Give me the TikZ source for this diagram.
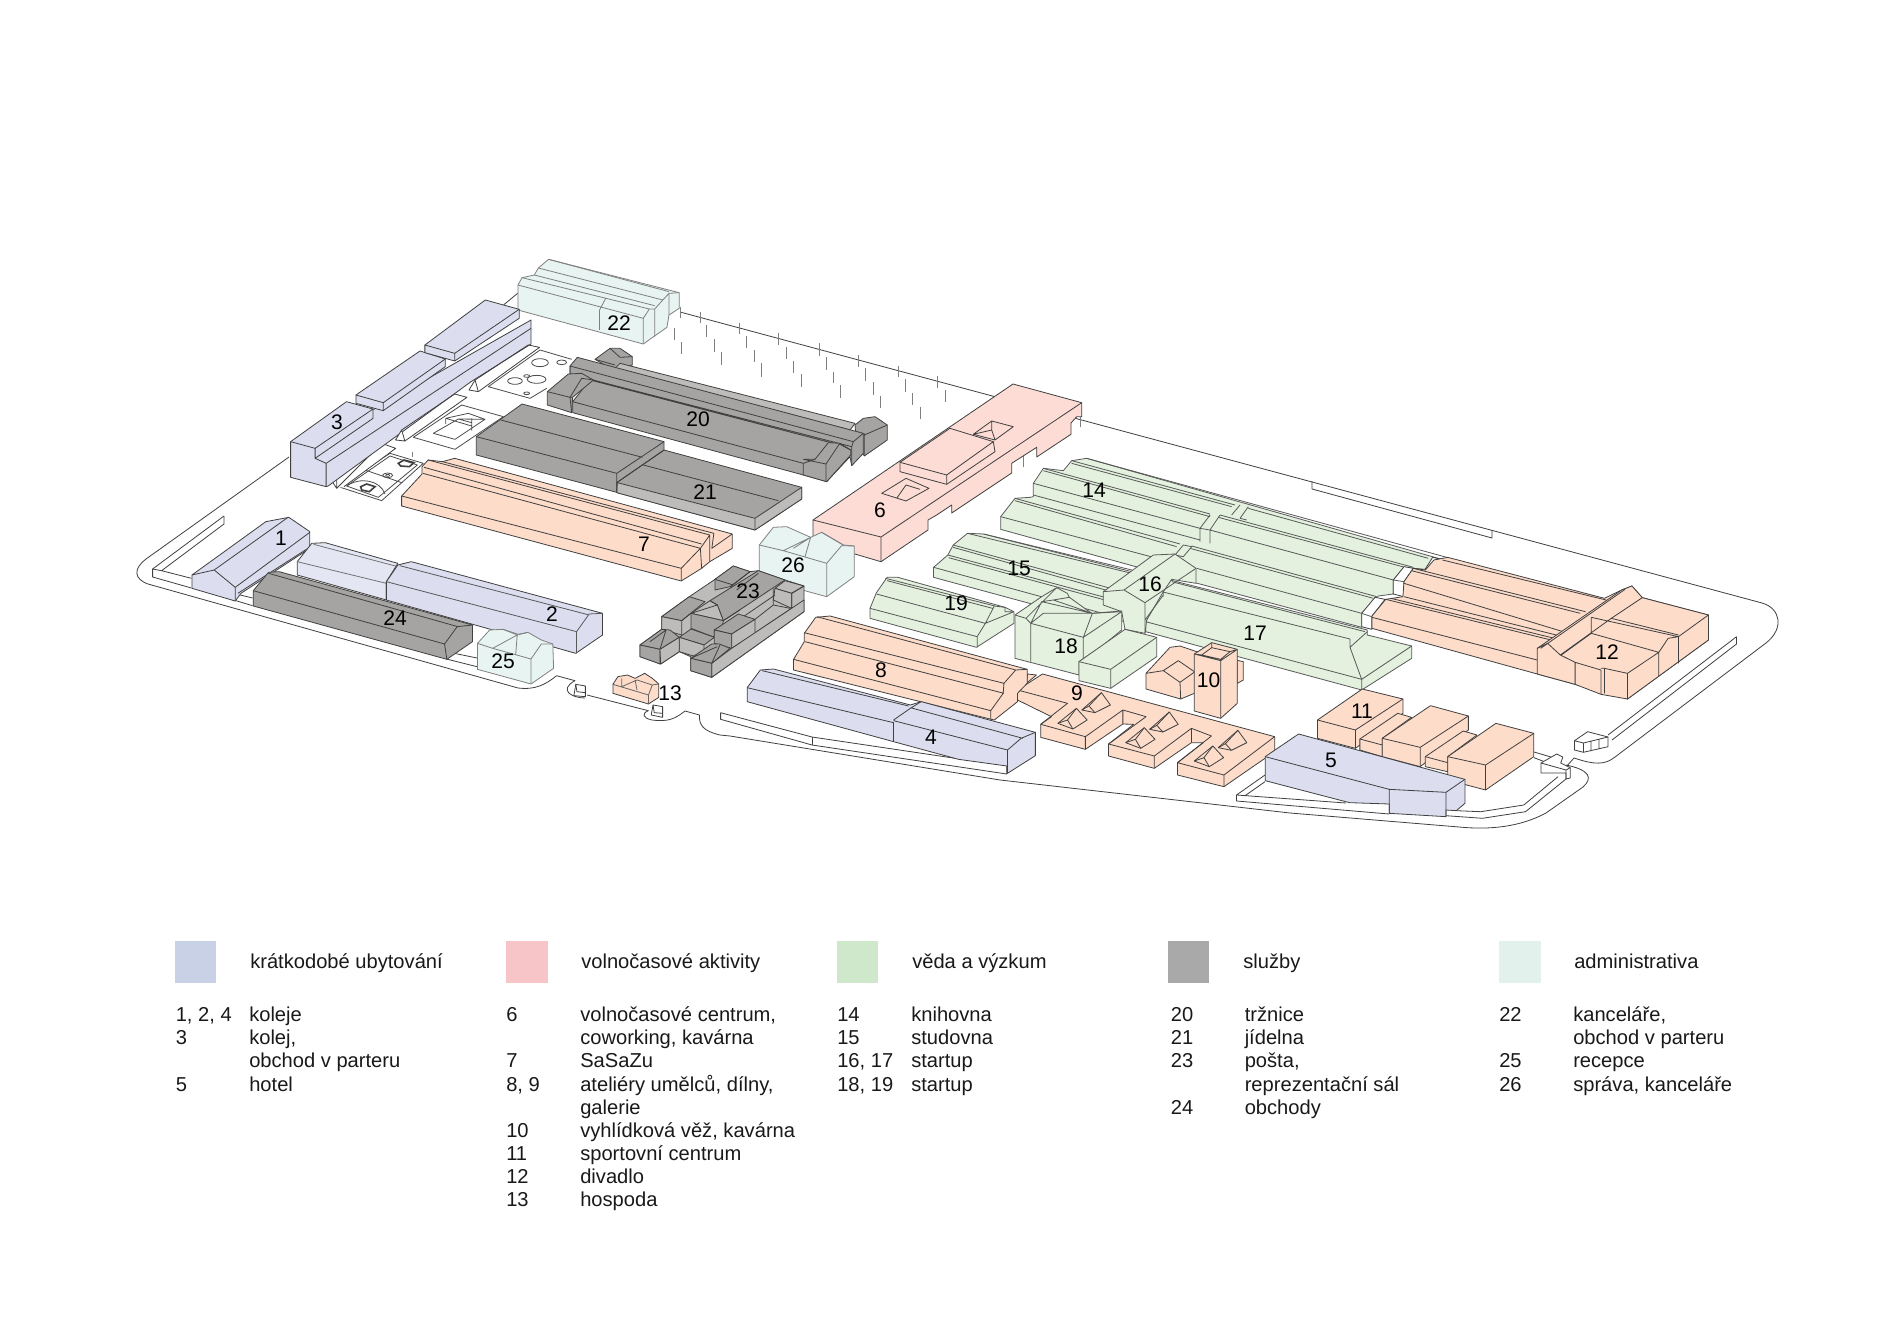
\documentclass[tikz,border=0pt]{standalone}
\usepackage{fontspec}
\setmainfont{Liberation Sans}
\definecolor{cblue}{HTML}{DCDEF0}
\definecolor{cbluel}{HTML}{E5E6F4}
\definecolor{cpeach}{HTML}{FDDCCA}
\definecolor{cpink}{HTML}{FCDCD5}
\definecolor{cgreen}{HTML}{E3F1DE}
\definecolor{cmint}{HTML}{E7F4F2}
\definecolor{cgray}{HTML}{A5A4A2}
\definecolor{cgrayl}{HTML}{BDBCBA}
\definecolor{lblue}{HTML}{C9D1E6}
\definecolor{lpink}{HTML}{F7C5C7}
\definecolor{lgreen}{HTML}{CFE8CC}
\definecolor{lgray}{HTML}{A9A9A9}
\definecolor{lmint}{HTML}{E3F1ED}
\tikzset{
 z1/.style={shift={(120,240)},xscale=.40816,yscale=.33333},
 z2/.style={shift={(500,300)},xscale=.33333,yscale=.33333},
 z3/.style={shift={(130,500)},xscale=.38265,yscale=.33333},
 z4/.style={shift={(730,520)},xscale=.35714,yscale=.33333},
 z5/.style={shift={(980,440)},xscale=.33333,yscale=.33333},
 z6/.style={shift={(1260,500)},xscale=.34439,yscale=.33333},
 z9/.style={shift={(330,350)},xscale=.33333,yscale=.33333},
 z10/.style={shift={(630,550)},xscale=.33333,yscale=.33333},
 z11/.style={shift={(1010,550)},xscale=.33333,yscale=.33333},
 ln/.style={draw=black!75,line width=.6pt,line join=round},
 site/.style={draw=black!75,line width=.6pt,line join=round},
 pole/.style={draw=black!50,line width=.7pt},
 wh/.style={ln,fill=white},
 bl/.style={ln,fill=cblue},
 bll/.style={ln,fill=cbluel},
 pe/.style={ln,fill=cpeach},
 pk/.style={ln,fill=cpink},
 gr/.style={ln,draw=black!65,fill=cgreen},
 mi/.style={ln,draw=black!50,fill=cmint},
 mil/.style={ln,draw=black!50},
 ga/.style={ln,fill=cgray},
 gl/.style={ln,fill=cgrayl},
 glab/.style={font=\fontsize{15.8}{16}\selectfont,text=black,inner sep=0pt},
 ltxt/.style={font=\fontsize{15.1}{15.1}\selectfont,text=black!90,inner sep=0pt,anchor=base west},
}
\begin{document}
\begin{tikzpicture}[x=.75pt,y=-.75pt]
\useasboundingbox (0,0) rectangle (1900,1341);
\fill[white] (0,0) rectangle (1900,1341);
% site outline
\draw[site] (680,312)--(1762,603) .. controls (1780,608) and (1785,628) .. (1766,643)--(1615,757) .. controls (1605,765) and (1595,765) .. (1574,758)--(1566,767);
\draw[site] (1566,765) .. controls (1590,770) and (1593,778) .. (1583,787)--(1546,813) .. controls (1520,827) and (1490,830) .. (1459,827)--(1290,813)--(1000,780)--(730,736)--(720,735) .. controls (703,731) and (699,725) .. (699.4,715)--(685,711) .. controls (675,719) and (668,722) .. (652,720) .. controls (642,718) and (642,713) .. (648.4,710.7)--(587,695);
\draw[site] (585,698) .. controls (572,698) and (558,690) .. (575,680.7)--(556.6,675.7) .. controls (545,685) and (535,690) .. (518,688)--(148,584) .. controls (134,579) and (133,569) .. (146,559)--(289,457);
\draw[site] (518,293)--(503.5,305);
% strips
\draw[site] (224,516)--(152.6,569)--(152.6,577)--(191.4,588);
\draw[site] (224,516)--(224,524)--(161.6,570.7)--(191.4,578.3);
\draw[site] (152.6,569)--(161.6,570.7);
\draw[site] (236,594)--(252.6,598) (236,600.7)--(252.6,605.7);
\draw[site] (446.4,651.7)--(477,658) (446.4,659)--(477,666.7);
\draw[site] (720.6,712.7)--(812,737)--(960,759) (720.6,712.7)--(720.6,719.3)--(812,745)--(1006.8,774)--(1006.8,766.7);
\draw[site] (812,737)--(812,745);
\draw[site] (1265,775)--(1236.5,795)--(1236.5,801)--(1389,814) (1236.5,795)--(1346,803) (1265,781.7)--(1245,795.7);
\draw[site] (1312,481)--(1312,489)--(1492,538)--(1492,530);
% right corner small blocks
\draw[site] (1736.5,636.7)--(1608,735) (1736.5,636.7)--(1736.5,644)--(1612,740);
\path[wh] (1574.5,740.7)--(1587.6,731.7)--(1608,737)--(1608,746.7)--(1583.4,752.3)--(1574.5,750)--cycle;
\draw[ln] (1574.5,740.7)--(1583.4,743)--(1608,737) (1583.4,743)--(1583.4,752.3) (1591,741)--(1591,751) (1599,739)--(1599,749);
\draw[site] (1534,752)--(1551,757) (1534,757.7)--(1544.5,761.7);
\path[wh] (1541,763)--(1556.6,754)--(1562.8,757)--(1560.7,763)--(1570.3,767.7)--(1570.3,778)--(1566,779)--(1566,773)--(1541,773)--cycle;
\draw[ln] (1541,763)--(1566,770)--(1566,779) (1566,770)--(1570.3,767.7);
\draw[site] (1566,779)--(1525.5,811.7)--(1482.4,818.3)--(1446,815.7) (1558,776.7)--(1523.8,805)--(1480.7,811.7)--(1456.6,810.7);
% fence poles
\begin{scope}[z2]
\foreach \a/\b/\c in {540/20/55,600/35/70,718/68/103,836/98/135,957/130/168,1076/165/200,1195/197/232,1313/228/265,620/75/110,740/107/145,860/140/178,980/172/210,1097/205/242,1217/237/275,1335/270/305,523/85/120,643/117/155,762/150/187,880/182/220,1000/215/250,1120/247/285,1238/280/315,545/127/163,665/157/195,785/190/230,905/222/260,1022/255/293,1142/288/325,1260/320/358}
 \draw[pole] (\a,\b)--(\a,\c);
\end{scope}
\draw[pole] (1023.3,455)--(1023.3,466.7) (1080.7,416.7)--(1080.7,427);
% plates
\begin{scope}[z9]
\draw[ln,draw=black!70] (475,110)--(630,0)--(725,28) (475,110)--(600,145)--(650,115);
\foreach \p/\q/\r/\s in {630/38/25/12,695/37/15/7,555/93/22/10,620/88/28/12,590/78/9/4,590/130/9/4}
 \draw[ln,draw=black!70] (\p,\q) ellipse [x radius=\r,y radius=\s];
\draw[ln,draw=black!70] (250,262)--(395,165)--(520,200)--(375,298)--cycle;
\draw[ln,draw=black!70] (310,250)--(385,207)--(465,208)--(375,268)--cycle (347,205)--(415,190)--(465,208) (347,205)--(425,228) (385,207)--(425,218) (347,205)--(347,222) (425,205)--(425,242);
\draw[ln,draw=black!70] (25,410)--(180,310)--(280,340)--(155,452)--cycle;
\draw[ln,draw=black!70] (50,408)--(180,318)--(262,345)--(145,442)--cycle (105,360)--(215,398);
\draw[ln,draw=black!70] (50,408) .. controls (90,380) and (150,390) .. (165,432);
\draw[ln,draw=black!70] (173,376) ellipse [x radius=15,y radius=7];
\draw[ln,draw=black!70] (173,376) ellipse [x radius=6,y radius=3];
\draw[line width=1.2pt,draw=black!75] (92,410)--(110,402)--(135,410)--(118,425)--(95,420)--cycle;
\draw[line width=1.2pt,draw=black!75] (205,340)--(222,330)--(252,338)--(238,350)--(212,348)--cycle;
\draw[pole] (248,305)--(248,322);
\draw[wh] (20,415)--(155,280)--(197,295)--(42,410);
\path[wh] (5,392)--(20,372)--(20,415)--cycle;
\end{scope}
% 22
\begin{scope}[z1]
\path[mi] (975,135)--(985,113)--(1015,105)--(1025,84)--(1050,58)--(1370,158)--(1370,205)--(1345,225)--(1340,262)--(1282,312)--(975,210)--cycle;
\draw[mil] (975,135)--(1282,235)--(1282,312) (1282,235)--(1297,207) (985,113)--(1297,207) (1015,105)--(1310,197) (1297,207)--(1310,207)--(1310,290) (1310,207)--(1330,180) (1025,84)--(1330,180) (1050,58)--(1345,155) (1330,180)--(1345,160)--(1370,158) (1345,160)--(1345,225) (1190,175)--(1175,210)--(1175,270);
% 3
\path[bl] (418,605)--(555,485)--(622,508)--(1007,240)--(1007,312)--(860,425)--(510,738)--(505,740)--(418,712)--cycle;
\draw[ln] (418,605)--(478,625)--(478,655)--(505,670)--(505,740) (478,625)--(620,507)--(620,535)--(478,655) (505,670)--(1007,265);
\path[bl] (578,465)--(735,333)--(797,357)--(797,380)--(645,512)--(578,490)--cycle;
\draw[ln] (578,465)--(645,488)--(797,357) (645,488)--(645,512);
\path[bl] (747,315)--(895,180)--(978,208)--(978,235)--(820,363)--(747,338)--cycle;
\draw[ln] (747,315)--(820,340)--(978,208) (820,340)--(820,363);
\draw[ln] (690,570)--(820,462)--(850,472)--(698,603) (870,420)--(1000,315)--(1028,322)--(878,455);
\path[wh] (675,600)--(690,570)--(698,603)--cycle;
\path[wh] (855,450)--(870,420)--(878,455)--cycle;
\end{scope}
% 20
\begin{scope}[z2]
\path[ga] (285,178)--(330,145)--(360,145)--(397,170)--(397,195)--(340,210)--cycle;
\draw[ln] (285,178)--(345,195) (330,145)--(360,172)--(397,170);
\path[gl] (360,190)--(1065,370)--(1050,390)--(345,205)--cycle;
\path[ga] (1065,375)--(1090,355)--(1125,350)--(1162,375)--(1162,420)--(1093,468)--(1070,430)--cycle;
\draw[ln] (1093,400)--(1093,468) (1093,405)--(1162,375);
\path[ga] (210,198)--(232,172)--(1090,400)--(1090,460)--(1055,497)--(1050,470)--(980,545)--(910,525)--(218,338)--(218,305)--(270,240)--(210,222)--cycle;
\draw[ln] (210,198)--(1060,425)--(1090,400) (210,198)--(210,222)--(1055,440)--(1055,497) (1060,425)--(1055,440) (270,240)--(1000,430) (218,305)--(910,490);
\path[ga] (142,275)--(205,222)--(245,220)--(280,240)--(218,292)--(215,338)--(142,315)--cycle;
\draw[ln] (142,275)--(210,292)--(215,338) (210,292)--(245,235)--(280,240) (210,292)--(218,292);
\path[ga] (910,490)--(945,478)--(985,428)--(1020,430)--(1052,450)--(1052,465)--(980,545)--(910,525)--cycle;
\draw[ln] (910,478)--(978,492)--(978,545) (978,492)--(1018,432)--(1052,450) (910,478)--(945,478);
% 21
\path[ga] (352,545)--(492,450)--(905,562)--(905,597)--(765,690)--(352,578)--cycle;
\path[gl] (352,548)--(765,655)--(905,562)--(905,597)--(765,690)--(350,578)--cycle;
\draw[ln] (765,655)--(765,690) (430,495)--(835,602);
\end{scope}
\begin{scope}[z1]
\path[ga] (873,590)--(985,492)--(1333,605)--(1333,630)--(1217,728)--(1217,757)--(873,645)--cycle;
\draw[ln] (873,590)--(1217,700)--(1217,757) (1217,700)--(1333,605) (933,540)--(1280,652) (1217,728)--(1333,630);
% 7
\path[pe] (690,768)--(740,702)--(740,680)--(755,660)--(790,665)--(820,655)--(1500,882)--(1500,925)--(1445,965)--(1425,985)--(1375,1023)--(690,798)--cycle;
\draw[ln] (690,768)--(1375,985)--(1375,1023) (1375,985)--(1422,925)--(1425,985) (742,700)--(1422,925)--(1445,885)--(1445,965) (745,682)--(1425,912) (755,660)--(1445,885) (790,665)--(1455,880)--(1450,925)--(1500,882);
\end{scope}
% 6
\path[pk] (813,520)--(1013,384)--(1081.7,402.7)--(1081.7,416.7)--(1076.7,416.7)--(1071,423)--(1071,434.3)--(1036.7,457)--(1036.7,447.3)--(1011.7,463.3)--(1011.7,473)--(951.7,513)--(951.7,505)--(936.7,515)--(928,520)--(928,530)--(881,561.7)--(813,541.7)--cycle;
\draw[ln] (813,520)--(881,537)--(881,561.7) (881,537)--(1081.7,402.7);
\draw[ln] (973.3,434.3)--(991.7,421)--(1013.3,426.7)--(995,440)--cycle (991.7,421)--(991.7,430)--(973.3,434.3) (991.7,430)--(995,440);
\begin{scope}[z2]
\path[pk] (1200,487)--(1350,385)--(1480,425)--(1485,455)--(1340,553)--(1200,515)--cycle;
\draw[ln] (1200,487)--(1340,525)--(1480,425) (1340,525)--(1340,553);
\draw[ln] (1145,580)--(1218,535)--(1287,565)--(1218,603)--cycle (1190,595)--(1218,555)--(1260,568);
% 26
\path[mi] (778,735)--(820,682)--(860,680)--(932,712)--(965,697)--(1030,735)--(1063,738)--(1063,830)--(980,890)--(778,835)--cycle;
\draw[mil] (778,735)--(850,752)--(932,712) (850,752)--(980,790)--(980,890) (980,790)--(1025,737)--(1063,738) (932,712)--(915,770) (932,712)--(880,745) (965,697)--(1030,735);
\end{scope}
% 23
\begin{scope}[z10]
\path[gl] (255,88)--(310,48)--(360,65)--(385,62)--(465,90)--(522,108)--(522,185)--(245,382)--(182,362)--(182,320)--(148,305)--(92,342)--(30,320)--(30,285)--(95,238)--(95,200)--(178,140)--cycle;
\path[ga] (255,88)--(310,48)--(360,65)--(300,110)--(255,120)--cycle;
\draw[ln] (255,88)--(310,105);
\path[ga] (240,152)--(385,62)--(465,90)--(280,212)--(262,165)--cycle;
\draw[ln] (300,112)--(360,65) (320,120)--(385,70);
\path[gl] (183,190)--(262,165)--(280,212)--cycle;
\draw[ln] (183,190)--(240,152)--(262,165);
\path[gl] (435,115)--(465,92)--(522,108)--(485,130)--cycle;
\path[gl] (435,115)--(485,130)--(485,175)--(430,150)--cycle;
\draw[ln] (485,130)--(522,108);
\draw[ln] (280,212)--(330,180) (340,200)--(435,135) (375,208)--(430,165)--(430,115) (430,165)--(480,175) (305,295)--(485,175)--(485,130);
\path[ga] (95,200)--(178,140)--(225,155)--(155,212)--cycle;
\path[gl] (95,200)--(155,212)--(155,255)--(95,238)--cycle;
\path[ga] (183,190)--(280,212)--(275,240)--(253,240)--(253,262)--(183,235)--cycle;
\draw[ln] (155,212)--(183,190);
\path[ga] (148,262)--(183,237)--(253,262)--(222,285)--cycle;
\path[gl] (148,262)--(222,285)--(222,305)--(190,318)--(148,305)--cycle;
\path[ga] (253,240)--(325,192)--(375,208)--(305,252)--cycle;
\path[ga] (253,240)--(305,252)--(305,295)--(253,280)--cycle;
\path[gl] (305,252)--(375,208)--(375,250)--(305,295)--cycle;
\path[ga] (30,285)--(95,238)--(120,240)--(148,262)--(90,298)--cycle;
\draw[ln] (95,238)--(108,240)--(90,298) (60,275)--(108,240);
\path[ga] (30,285)--(90,298)--(90,342)--(30,320)--cycle;
\path[gl] (90,298)--(148,262)--(148,305)--(92,342)--cycle;
\path[gl] (245,340)--(305,295)--(522,150)--(522,185)--(245,382)--cycle;
\path[ga] (182,325)--(245,282)--(268,282)--(300,295)--(245,340)--cycle;
\draw[ln] (245,340)--(270,285) (182,325)--(262,290);
\path[ga] (182,325)--(245,340)--(245,382)--(182,362)--cycle;
\end{scope}
% 1, 2, 24, 25, 13
\begin{scope}[z3]
\path[bl] (162,225)--(355,65)--(415,52)--(470,95)--(470,145)--(290,280)--(275,303)--(162,265)--cycle;
\draw[ln] (162,225)--(220,210)--(275,262)--(275,303) (220,210)--(413,52) (275,262)--(470,97) (282,280)--(465,145);
\path[bll] (437,185)--(475,130)--(510,128)--(700,190)--(670,245)--(670,300)--(437,225)--cycle;
\draw[ln,draw=black!55] (437,185)--(670,250) (480,133)--(700,200);
\path[bl] (670,245)--(700,195)--(735,185)--(1235,340)--(1235,405)--(1165,460)--(670,300)--cycle;
\draw[ln,draw=black!65] (670,245)--(1167,395)--(1167,460) (1167,395)--(1200,342)--(1235,340) (705,197)--(1200,345);
\path[ga] (322,272)--(362,217)--(390,215)--(895,375)--(895,425)--(828,478)--(322,318)--cycle;
\draw[ln] (322,272)--(822,432)--(828,478) (822,432)--(855,380)--(895,375) (362,220)--(857,380);
\path[mi] (908,430)--(940,390)--(975,388)--(1015,403)--(1040,397)--(1075,420)--(1105,432)--(1107,505)--(1048,552)--(908,508)--cycle;
\draw[mil] (908,430)--(948,445)--(1012,405) (975,388)--(1012,405)--(1040,397) (1012,405)--(1008,463) (948,445)--(1048,477)--(1048,552) (1048,477)--(1075,432)--(1105,432);
\path[pe] (1262,553)--(1275,530)--(1300,525)--(1320,535)--(1345,520)--(1365,535)--(1382,552)--(1382,592)--(1355,612)--(1262,580)--cycle;
\draw[ln,draw=black!60] (1262,553)--(1355,585)--(1355,612) (1355,585)--(1365,555)--(1382,552) (1285,535)--(1285,560) (1320,540)--(1325,570) (1285,560)--(1325,540)--(1365,555);
\path[wh] (1160,587)--(1165,553)--(1190,558)--(1190,590)--cycle;
\draw[ln] (1165,553)--(1168,575)--(1190,578);
\path[wh] (1362,645)--(1367,615)--(1392,620)--(1392,652)--cycle;
\draw[ln] (1367,615)--(1370,638)--(1392,640);
\end{scope}
% halls 14 and 17
\begin{scope}[z5]
\path[gr] (62,230)--(105,175)--(150,172)--(160,170)--(160,130)--(190,85)--(250,92)--(275,62)--(320,55)--(1385,358)--(1335,388)--(1272,382)--(1240,420)--(1240,462)--(1195,468)--(1145,520)--(1145,562)--(540,400)--(62,268)--cycle;
\draw[ln,draw=black!65]
 (275,62)--(765,195) (320,55)--(1400,352) (275,70)--(755,200)
 (755,225)--(780,195) (780,235)--(805,200) (805,205)--(1345,355) (780,235)--(800,240)
 (190,85)--(690,222) (190,92)--(690,230) (160,130)--(660,265)--(660,305) (660,265)--(690,225)
 (690,270)--(690,310) (690,270)--(720,225) (660,265)--(690,270)
 (720,225)--(1300,382) (715,232)--(1275,382) (690,270)--(1240,420)
 (160,165)--(660,300)
 (105,175)--(600,312) (105,182)--(590,320) (62,230)--(520,352)
 (635,318)--(1190,470) (630,325)--(1180,475) (650,385)--(1145,520);
\path[gr] (497,575)--(497,545)--(545,455)--(570,420)--(1162,570)--(1162,585)--(1295,618)--(1295,655)--(1145,750)--cycle;
\draw[ln,draw=black!65] (575,425)--(1155,575) (545,455)--(1110,597)--(1110,622)--(1162,575) (497,545)--(1145,718)--(1145,750) (1110,622)--(1145,718)--(1295,618);
% white gaps
\path[wh] (1240,420)--(1272,380)--(1300,385)--(1272,425)--(1272,470)--(1240,462)--cycle;
\path[wh] (1145,520)--(1185,472)--(1215,478)--(1175,530)--(1175,568)--(1145,560)--cycle;
\path[wh] (1335,388)--(1358,352)--(1385,358)--(1362,392)--cycle;
\draw[ln,draw=black!65] (1240,420)--(1272,425) (1145,520)--(1175,530);
\end{scope}
% hall 12
\begin{scope}[z6]
\path[pe] (480,210)--(505,180)--(545,172)--(1000,295)--(1050,270)--(1080,258)--(1110,293)--(1302,345)--(1302,420)--(1067,597)--(915,553)--(805,522)--(325,385)--(325,348)--(365,298)--(415,290)--(418,245)--(445,205)--cycle;
\draw[ln] (530,180)--(1005,300) (445,205)--(945,335) (440,212)--(930,340) (418,250)--(880,395) (418,290)--(860,405)
 (365,298)--(845,420) (380,295)--(855,415) (325,352)--(805,480);
\path[pe] (805,445)--(1050,270)--(1080,258)--(1110,293)--(1302,345)--(1302,420)--(1067,597)--(990,583)--(915,553)--(805,522)--cycle;
\draw[ln] (815,445)--(1060,268) (805,445)--(835,430)--(872,465)--(1020,355)--(1110,293) (962,352)--(962,400)--(875,465) (962,352)--(1215,410)--(1215,490) (962,400)--(1158,457)--(1158,530) (1158,457)--(1185,415)--(1215,410)--(1302,345) (1020,355)--(1215,405) (1158,457)--(1067,520)--(1067,597) (1067,520)--(1000,505)--(1000,580) (872,465)--(915,487)--(990,510)--(990,583) (915,487)--(915,553) (990,505)--(1000,505);
\end{scope}
% 15, 19
\begin{scope}[z4]
\path[gr] (570,142)--(610,105)--(625,75)--(665,40)--(710,42)--(1125,155)--(1125,300)--(1045,310)--(570,172)--cycle;
\draw[ln,draw=black!65] (570,142)--(1050,282) (610,105)--(1060,235) (612,113)--(1060,243) (625,75)--(1110,218) (625,82)--(1105,226) (665,40)--(1125,160) (710,42)--(1125,150);
\path[gr] (392,265)--(410,218)--(440,172)--(470,172)--(770,262)--(795,275)--(795,310)--(690,382)--(392,295)--cycle;
\draw[ln,draw=black!65] (392,265)--(692,350)--(692,382) (692,350)--(715,310)--(740,258)--(770,262)--(770,275)--(795,275) (410,222)--(715,310)--(795,275) (435,175)--(742,258) (440,182)--(735,265);
\end{scope}
% 16, 18
\begin{scope}[z5]
\path[gr] (585,345)--(610,315)--(635,320)--(610,350)--cycle;
\end{scope}
\begin{scope}[z11]
\path[gr] (280,125)--(430,15)--(495,12)--(558,55)--(558,100)--(485,88)--(460,125)--(410,210)--(405,250)--(345,238)--(335,185)--(280,165)--cycle;
\draw[ln,draw=black!65] (280,125)--(342,120)--(405,158)--(405,250) (342,120)--(495,12) (405,158)--(558,55) (405,158)--(405,210)--(460,135) (460,125)--(460,140);
\path[gr] (15,195)--(95,140)--(140,113)--(172,130)--(178,142)--(245,190)--(335,183)--(335,240)--(280,285)--(207,335)--(207,375)--(15,325)--cycle;
\draw[ln,draw=black!65] (15,195)--(48,205)--(62,220)--(62,335) (62,220)--(95,155)--(130,150)--(178,142) (62,220)--(220,262)--(220,350) (220,262)--(247,190)--(335,185) (220,262)--(335,185) (62,220)--(100,190)--(247,190) (95,155)--(247,190) (130,150)--(247,190) (48,205)--(140,113);
\path[gr] (207,335)--(345,238)--(440,262)--(440,320)--(302,415)--(207,392)--cycle;
\draw[ln,draw=black!65] (207,335)--(302,358)--(302,415) (302,358)--(440,262);
% 10
\path[pe] (408,370)--(480,292)--(510,288)--(560,305)--(700,335)--(700,390)--(682,400)--(553,430)--(512,447)--(408,417)--cycle;
\draw[ln] (408,370)--(460,362)--(510,397)--(512,447) (460,362)--(505,332)--(553,365) (510,397)--(555,365) (682,335)--(682,400);
\path[pe] (553,312)--(605,278)--(682,298)--(682,460)--(632,505)--(553,483)--cycle;
\draw[ln] (553,312)--(632,332)--(682,298) (632,332)--(632,505) (575,315)--(605,293)--(660,305)--(632,328)--cycle (605,278)--(605,293) (553,312)--(575,315) (632,328)--(632,332) (682,298)--(660,305);
\end{scope}
% 8, 9, 4
\begin{scope}[z4]
\path[pe] (875,462)--(1525,650)--(1525,695)--(1383,800)--(1253,765)--(1253,728)--(1325,668)--(1292,668)--(1188,745)--(1060,708)--(1060,672)--(1130,613)--(1100,612)--(995,688)--(870,652)--(870,613)--(900,590)--(805,540)--(805,510)--cycle;
\draw[ln] (870,613)--(995,650)--(995,688) (995,650)--(1100,570)--(1165,590)--(1060,672) (1100,570)--(1100,612) (1060,672)--(1188,708)--(1188,745) (1188,708)--(1292,625)--(1348,648)--(1253,728) (1292,625)--(1292,668) (1253,728)--(1383,765)--(1383,800) (1383,765)--(1525,650) (805,510)--(945,550)--(870,613);
\foreach \dx/\dy in {0/0,190/58,382/113}{
 \begin{scope}[shift={(\dx,\dy)}]
 \path[pe] (918,610)--(970,565)--(1000,600)--(960,627)--cycle;
 \draw[ln] (945,600)--(960,627) (918,610)--(945,600)--(970,565);
 \path[pe] (985,570)--(1040,518)--(1065,555)--(1022,578)--cycle;
 \draw[ln] (1005,558)--(1022,578) (985,570)--(1005,558)--(1040,518);
 \end{scope}}
\path[pe] (833,462)--(858,465)--(830,490)--cycle;
\path[pe] (178,418)--(208,365)--(208,340)--(240,292)--(280,288)--(832,448)--(832,490)--(805,520)--(805,545)--(740,600)--(728,597)--(178,450)--cycle;
\draw[ln] (178,418)--(730,572)--(730,598) (730,572)--(765,520)--(767,490)--(800,450)--(832,448) (210,365)--(767,520) (208,338)--(767,490) (243,290)--(800,450);
\path[bl] (48,503)--(85,450)--(122,447)--(505,555)--(535,545)--(855,637)--(855,707)--(777,760)--(775,738)--(640,718)--(458,665)--(48,545)--cycle;
\draw[ln] (48,503)--(458,608)--(458,665) (458,600)--(505,565)--(535,545) (90,452)--(500,558) (458,602)--(777,690)--(777,760) (777,690)--(815,655)--(855,637) (505,563)--(820,655);
\end{scope}
% 11, 5
\begin{scope}[z6]
\path[pe] (167,660)--(297,567)--(415,597)--(415,640)--(277,745)--(167,715)--cycle;
\draw[ln] (167,660)--(277,690)--(415,597) (277,690)--(277,745);
\path[pe] (290,717)--(400,640)--(440,652)--(355,715)--(355,770)--(290,750)--cycle;
\draw[ln] (290,717)--(355,735);
\path[pe] (355,715)--(495,617)--(605,648)--(605,690)--(465,800)--(355,770)--cycle;
\draw[ln] (355,715)--(465,742)--(605,648) (465,742)--(465,800);
\path[pe] (480,770)--(590,693)--(630,705)--(545,770)--(545,815)--(480,800)--cycle;
\draw[ln] (480,770)--(545,788);
\path[pe] (545,770)--(685,670)--(795,700)--(795,770)--(655,870)--(545,840)--cycle;
\draw[ln] (545,770)--(655,795)--(795,700) (655,795)--(655,870);
\path[bl] (15,770)--(112,702)--(595,838)--(595,910)--(570,932)--(540,930)--(540,950)--(375,940)--(375,912)--(260,908)--(15,842)--cycle;
\draw[ln] (15,770)--(375,868)--(540,877)--(595,838) (375,868)--(375,940) (540,877)--(540,950);
\end{scope}
% map labels
\node[glab] (n1) at (281,538) {1};
\node[glab] (n2) at (552,614) {2};
\node[glab] (n3) at (337,422) {3};
\node[glab] (n4) at (931,737) {4};
\node[glab] (n5) at (1331,760) {5};
\node[glab] (n6) at (880,510) {6};
\node[glab] (n7) at (644,544) {7};
\node[glab] (n8) at (881,670) {8};
\node[glab] (n9) at (1077,693) {9};
\node[glab] (n10) at (1208.5,680) {10};
\node[glab] (n11) at (1362,711) {11};
\node[glab] (n12) at (1607,652) {12};
\node[glab] (n13) at (670,693) {13};
\node[glab] (n14) at (1094,490) {14};
\node[glab] (n15) at (1019,568) {15};
\node[glab] (n16) at (1150,584) {16};
\node[glab] (n17) at (1255,633) {17};
\node[glab] (n18) at (1066,646) {18};
\node[glab] (n19) at (956,603) {19};
\node[glab] (n20) at (698,419) {20};
\node[glab] (n21) at (705,492) {21};
\node[glab] (n22) at (619,323) {22};
\node[glab] (n23) at (748,591) {23};
\node[glab] (n24) at (395,618) {24};
\node[glab] (n25) at (503,661) {25};
\node[glab] (n26) at (793,565) {26};
% legend
\fill[lblue] (175,941) rectangle (216,983);
\fill[lpink] (506,941) rectangle (548,983);
\fill[lgreen] (837,941) rectangle (878,983);
\fill[lgray] (1168,941) rectangle (1209,983);
\fill[lmint] (1499,941) rectangle (1541,983);
\node[ltxt] (h1) at (250,968.5) {krátkodobé ubytování};
\node[ltxt] (h2) at (581,968.5) {volnočasové aktivity};
\node[ltxt] (h3) at (912,968.5) {věda a výzkum};
\node[ltxt] (h4) at (1243,968.5) {služby};
\node[ltxt] (h5) at (1574,968.5) {administrativa};
\node[ltxt] (a1) at (175.5,1021.7) {1, 2, 4};
\node[ltxt] (a2) at (249,1021.7) {koleje};
\node[ltxt] (a3) at (175.5,1044.8) {3};
\node[ltxt] (a4) at (249,1044.8) {kolej,};
\node[ltxt] (a5) at (249,1067.9) {obchod v parteru};
\node[ltxt] (a6) at (175.5,1091) {5};
\node[ltxt] (a7) at (249,1091) {hotel};
\node[ltxt] (b1) at (506,1021.7) {6};
\node[ltxt] (b2) at (580,1021.7) {volnočasové centrum,};
\node[ltxt] (b3) at (580,1044.8) {coworking, kavárna};
\node[ltxt] (b4) at (506,1067.9) {7};
\node[ltxt] (b5) at (580,1067.9) {SaSaZu};
\node[ltxt] (b6) at (506,1091) {8, 9};
\node[ltxt] (b7) at (580,1091) {ateliéry umělců, dílny,};
\node[ltxt] (b8) at (580,1114.1) {galerie};
\node[ltxt] (b9) at (506,1137.2) {10};
\node[ltxt] (b10) at (580,1137.2) {vyhlídková věž, kavárna};
\node[ltxt] (b11) at (506,1160.3) {11};
\node[ltxt] (b12) at (580,1160.3) {sportovní centrum};
\node[ltxt] (b13) at (506,1183.4) {12};
\node[ltxt] (b14) at (580,1183.4) {divadlo};
\node[ltxt] (b15) at (506,1206.5) {13};
\node[ltxt] (b16) at (580,1206.5) {hospoda};
\node[ltxt] (c1) at (837,1021.7) {14};
\node[ltxt] (c2) at (911,1021.7) {knihovna};
\node[ltxt] (c3) at (837,1044.8) {15};
\node[ltxt] (c4) at (911,1044.8) {studovna};
\node[ltxt] (c5) at (837,1067.9) {16, 17};
\node[ltxt] (c6) at (911,1067.9) {startup};
\node[ltxt] (c7) at (837,1091) {18, 19};
\node[ltxt] (c8) at (911,1091) {startup};
\node[ltxt] (d1) at (1170.7,1021.7) {20};
\node[ltxt] (d2) at (1244.5,1021.7) {tržnice};
\node[ltxt] (d3) at (1170.7,1044.8) {21};
\node[ltxt] (d4) at (1244.5,1044.8) {jídelna};
\node[ltxt] (d5) at (1170.7,1067.9) {23};
\node[ltxt] (d6) at (1244.5,1067.9) {pošta,};
\node[ltxt] (d7) at (1244.5,1091) {reprezentační sál};
\node[ltxt] (d8) at (1170.7,1114.1) {24};
\node[ltxt] (d9) at (1244.5,1114.1) {obchody};
\node[ltxt] (e1) at (1499,1021.7) {22};
\node[ltxt] (e2) at (1573,1021.7) {kanceláře,};
\node[ltxt] (e3) at (1573,1044.8) {obchod v parteru};
\node[ltxt] (e4) at (1499,1067.9) {25};
\node[ltxt] (e5) at (1573,1067.9) {recepce};
\node[ltxt] (e6) at (1499,1091) {26};
\node[ltxt] (e7) at (1573,1091) {správa, kanceláře};
\end{tikzpicture}
\end{document}
